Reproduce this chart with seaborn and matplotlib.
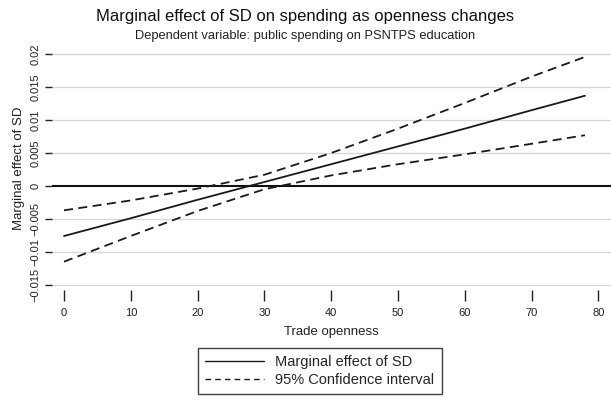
import matplotlib
matplotlib.use("Agg")
import matplotlib.pyplot as plt
import seaborn as sns
import pandas as pd
from matplotlib.lines import Line2D

# Data
openness = [0, 10, 20, 30, 40, 50, 60, 70, 78]
marginal = [-0.0076, -0.0049, -0.0021, 0.0006, 0.0033, 0.0060, 0.0087, 0.0115, 0.0137]
ci_upper = [-0.0037, -0.0022, -0.0004, 0.0017, 0.0050, 0.0087, 0.0126, 0.0166, 0.0196]
ci_lower = [-0.0115, -0.0076, -0.0038, -0.0005, 0.0016, 0.0033, 0.0048, 0.0064, 0.0077]

x_ticks = [0, 10, 20, 30, 40, 50, 60, 70, 80]
y_ticks = [-0.015, -0.01, -0.005, 0, 0.005, 0.01, 0.015, 0.02]
y_tick_labels = ["\u22120.015", "\u22120.01", "\u22120.005", "0", "0.005", "0.01", "0.015", "0.02"]

title = "Marginal effect of SD on spending as openness changes"
subtitle = "Dependent variable: public spending on PSNTPS education"

sns.set_theme(style="white")
plt.rcParams["font.family"] = ["Liberation Sans", "DejaVu Sans"]

W, H = 611, 401
fig = plt.figure(figsize=(W / 100, H / 100), dpi=100)
left, right, top, bottom = 52, 611, 47, 290
ax = fig.add_axes([left / W, 1 - bottom / H, (right - left) / W, (bottom - top) / H])

df_m = pd.DataFrame({"x": openness, "y": marginal})
df_u = pd.DataFrame({"x": openness, "y": ci_upper})
df_l = pd.DataFrame({"x": openness, "y": ci_lower})

for yv in y_ticks:
    if yv == 0:
        ax.axhline(yv, color="#111111", lw=1.5, zorder=1)
    else:
        ax.axhline(yv, color="#d6d6d6", lw=0.9, zorder=0)

sns.lineplot(data=df_m, x="x", y="y", ax=ax, color="#1a1a1a", lw=1.3)
sns.lineplot(data=df_u, x="x", y="y", ax=ax, color="#1a1a1a", lw=1.3,
             linestyle=(0, (5, 3)))
sns.lineplot(data=df_l, x="x", y="y", ax=ax, color="#1a1a1a", lw=1.3,
             linestyle=(0, (5, 3)))

ax.set_xlim(-1.8, 81.9)
ax.set_ylim(-0.0158, 0.0211)
ax.set_xticks(x_ticks)
ax.set_xticklabels([str(v) for v in x_ticks], fontsize=8, color="#222222")
ax.set_yticks(y_ticks)
ax.set_yticklabels(y_tick_labels, fontsize=8, color="#222222", rotation=90, va="center")
for s in ax.spines.values():
    s.set_visible(False)
ax.tick_params(axis="x", which="both", direction="out", length=8, width=1.0,
               color="#222222", bottom=True, pad=5)
ax.tick_params(axis="y", which="both", direction="out", length=5, width=1.0,
               color="#222222", left=True, pad=3)
ax.set_xlabel("Trade openness", fontsize=9.5, color="#222222", labelpad=6)
ax.set_ylabel("Marginal effect of SD", fontsize=9.5, color="#222222", labelpad=4)

fig.text(0.5, 1 - 17 / H, title, ha="center", va="center", fontsize=12, color="#111111")
fig.text(0.5, 1 - 36 / H, subtitle, ha="center", va="center", fontsize=9.3, color="#222222")

handles = [Line2D([], [], color="#1a1a1a", lw=1.0),
           Line2D([], [], color="#1a1a1a", lw=1.0, linestyle=(0, (4, 3)))]
leg = fig.legend(handles, ["Marginal effect of SD", "95% Confidence interval"],
                 loc="center", bbox_to_anchor=(320 / W, 1 - 371 / H), fontsize=10.5,
                 frameon=True, fancybox=False, edgecolor="#111111", handlelength=4,
                 borderpad=0.5, labelspacing=0.3)
leg.get_frame().set_linewidth(1.0)

fig.savefig("out.png", dpi=100, facecolor="white")
